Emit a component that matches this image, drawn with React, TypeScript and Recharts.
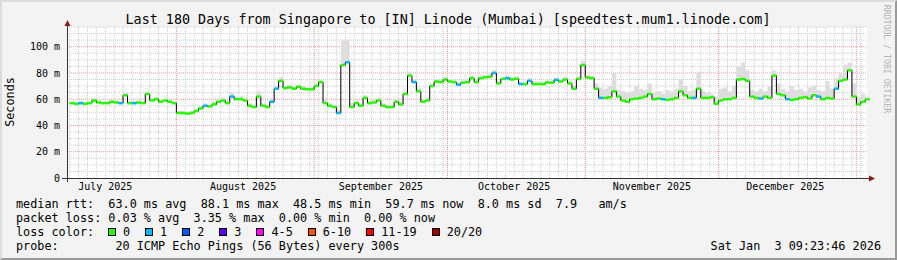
import React from "react";
import { ComposedChart, Area, Line, Scatter, ErrorBar, XAxis, YAxis, CartesianGrid } from "recharts";

// days are counted from Jul 1 2025 00:00; the graph spans 180 days ending Jan 3 2026 09:23
const FIRST_DAY = 7;
const START = 6.39;
const END = 186.39;

// daily median rtt (ms), Jul 8 .. Jan 3
const median = [
    57, 56.5, 57, 56.5, 57, 59, 57.5, 57, 57, 58,
    57.5, 57, 63, 57, 57, 57.5, 57, 64, 59, 60,
    58, 59, 58, 57, 49.5, 49.5, 49, 49.5, 51, 53,
    55, 54.5, 56, 58, 59, 57, 62, 60, 60, 59,
    55, 54, 62, 55, 54, 58, 68, 74, 68.5, 69,
    68, 69.5, 68, 67.5, 67.5, 70, 73, 57, 55, 54,
    49.5, 86, 88.1, 54, 57, 55, 61, 57, 57.5, 59,
    55, 54, 54, 58, 56, 64, 78, 73, 66, 58,
    59, 70, 73.5, 73, 75, 73.5, 73, 71, 72.5, 73,
    76, 73, 76, 76.7, 77, 80, 72, 75.4, 76, 75,
    75.5, 71.5, 71.4, 74, 71.4, 71.5, 71.4, 72.7, 72.5, 74.7,
    73.5, 75, 72, 68, 75.4, 86, 76.5, 76, 68, 61,
    61, 61.5, 66, 62, 59, 58, 60, 60.5, 61, 62,
    64, 60, 60.5, 60, 59.5, 60, 61, 66, 63, 61,
    61, 68, 61, 61, 61.5, 56.5, 59, 60, 60, 61,
    75, 75.4, 74, 62, 61, 60.5, 62, 61, 78, 64,
    63, 60, 59.5, 60, 61, 61.5, 60.5, 63, 62, 60,
    61, 60.5, 68, 74, 75, 82, 62, 56, 58, 60,
];

// top of the ping "smoke" per day (ms)
const smokeHi = [
    58, 58, 58.5, 58, 58, 60.5, 59, 58, 58, 59.5,
    59, 58.5, 65, 58.5, 58.5, 59, 58.5, 66, 61, 61.5,
    59.5, 60.5, 59.5, 58.5, 51, 51, 50.5, 51, 52.5, 55,
    57, 56, 58, 60, 61, 59, 65, 62, 62, 61,
    57, 56, 66, 57, 56, 60, 70, 77, 70, 71,
    70, 71, 70, 69, 69, 72, 75, 60, 57, 56,
    52, 105, 105, 57, 59, 57, 63, 59, 59.5, 61,
    57, 56, 56, 60, 58, 66, 81, 75, 69, 60,
    61, 72, 75.5, 75, 77, 75.5, 75, 73, 74.5, 75,
    78, 75, 78, 78.5, 79, 82, 74, 77, 78, 77,
    77.5, 73.5, 73.5, 76, 73.5, 73.5, 73.5, 74.5, 74.5, 76.5,
    75.5, 77, 74, 70, 77.5, 89, 78.5, 78, 72, 69,
    68, 70, 80, 67, 66, 65, 66, 70, 68, 67,
    72, 65, 66, 64, 67, 66, 68, 75, 70, 66,
    67, 81, 66, 65, 64, 62, 68, 69, 66, 70,
    85, 88, 82, 67, 66, 68, 66, 70, 82, 72,
    68, 66, 70, 67, 68, 66, 69, 70, 67, 66,
    74, 68, 76, 80, 86, 88, 72, 62, 64, 66,
];

// days where 1 of 20 pings was lost
const lossOneDays = [9, 18, 21, 37, 43, 52, 53, 67, 69, 84, 94, 102, 105, 108, 110, 116, 126, 140, 147, 162, 168, 175, 179];

const monthTicks = [15, 46, 77, 107, 138, 168];
const monthLabels = ["July 2025", "August 2025", "September 2025", "October 2025", "November 2025", "December 2025"];
const monthStarts = [31, 62, 92, 123, 153, 184];
const yTicks = [0, 20, 40, 60, 80, 100];

const lossColors = [
    { label: "0", color: "#26ff00" },
    { label: "1", color: "#00b8ff" },
    { label: "2", color: "#0059ff" },
    { label: "3", color: "#5e00ff" },
    { label: "4-5", color: "#ff00ff" },
    { label: "6-10", color: "#ff5500" },
    { label: "11-19", color: "#ff0000" },
    { label: "20/20", color: "#a10000" },
];

const rows = median.map((m, i) => ({ day: FIRST_DAY + i, median: m, hi: smokeHi[i] }));
const segs = rows.map((r) => ({ day: r.day + 0.5, median: r.median, half: 0.5, lost: lossOneDays.includes(r.day) }));
const greenSegs = segs.filter((s) => !s.lost);
const blueSegs = segs.filter((s) => s.lost);

const minorX: number[] = [];
for (let d = 7; d <= 186; d += 2) minorX.push(d);
const minorY: number[] = [];
for (let v = 5; v <= 115; v += 5) if (v % 20 !== 0) minorY.push(v);

const MONO = "'DejaVu Sans Mono', monospace";

const textRow = (top: number): React.CSSProperties => ({
    position: "absolute",
    left: 16,
    top,
    fontFamily: MONO,
    fontSize: 11.8,
    lineHeight: "14px",
    whiteSpace: "pre",
    color: "#000",
});

export default function App() {
    return (
        <div style={{ position: "fixed", left: 0, top: 0, width: 897, height: 260, background: "#f3f3f3", overflow: "hidden" }}>
            <ComposedChart
                width={897}
                height={260}
                data={rows}
                margin={{ top: 27, right: 30, bottom: 62, left: 7 }}
                style={{ position: "absolute", left: 0, top: 0 }}
            >
                <CartesianGrid fill="#fff" stroke="#cdcdcd" strokeDasharray="1 1" horizontalValues={minorY} verticalValues={minorX} />
                <CartesianGrid stroke="#e99a9a" strokeDasharray="1 1" horizontalValues={[20, 40, 60, 80, 100]} verticalValues={monthStarts} />
                <XAxis
                    dataKey="day"
                    type="number"
                    domain={[START, END]}
                    allowDataOverflow
                    ticks={monthTicks}
                    interval={0}
                    tickFormatter={(v) => monthLabels[monthTicks.indexOf(v)] ?? ""}
                    tick={{ fontSize: 10, fill: "#000", fontFamily: MONO }}
                    tickSize={0}
                    tickMargin={5}
                    axisLine={false}
                    height={20}
                />
                <YAxis
                    dataKey="median"
                    type="number"
                    domain={[0, 115]}
                    allowDataOverflow
                    ticks={yTicks}
                    interval={0}
                    tickFormatter={(v) => (v === 0 ? "0" : `${v} m`)}
                    tick={{ fontSize: 10, fill: "#000", fontFamily: MONO }}
                    tickSize={0}
                    tickMargin={7}
                    axisLine={false}
                    width={60}
                />
                <Area
                    dataKey={(r: { median: number; hi: number }) => [r.median, r.hi]}
                    type="stepAfter"
                    fill="#dedede"
                    fillOpacity={1}
                    stroke="none"
                    isAnimationActive={false}
                />
                <Line dataKey="median" type="stepAfter" stroke="#000" strokeWidth={1} dot={false} isAnimationActive={false} />
                <Scatter data={greenSegs} shape={() => <g />} isAnimationActive={false}>
                    <ErrorBar dataKey="half" direction="x" width={0} stroke="#26ff00" strokeWidth={2.5} isAnimationActive={false} />
                </Scatter>
                <Scatter data={blueSegs} shape={() => <g />} isAnimationActive={false}>
                    <ErrorBar dataKey="half" direction="x" width={0} stroke="#00b8ff" strokeWidth={2.5} isAnimationActive={false} />
                </Scatter>
            </ComposedChart>

            {/* axes with arrow heads, drawn the rrdtool way */}
            <svg width={897} height={260} style={{ position: "absolute", left: 0, top: 0, pointerEvents: "none" }}>
                <line x1={67.5} y1={25} x2={67.5} y2={182} stroke="#333" strokeWidth={1} />
                <line x1={62} y1={178.5} x2={870} y2={178.5} stroke="#333" strokeWidth={1} />
                <polygon points="67.5,20 64.5,26 70.5,26" fill="#8b1a1a" />
                <polygon points="875,178.5 869,175.5 869,181.5" fill="#8b1a1a" />
            </svg>

            <div
                style={{
                    position: "absolute",
                    left: 448,
                    top: 19,
                    transform: "translate(-50%, -50%)",
                    fontFamily: MONO,
                    fontSize: 13.4,
                    whiteSpace: "pre",
                    color: "#000",
                }}
            >
                Last 180 Days from Singapore to [IN] Linode (Mumbai) [speedtest.mum1.linode.com]
            </div>

            <div
                style={{
                    position: "absolute",
                    left: 10,
                    top: 102,
                    transform: "translate(-50%, -50%) rotate(-90deg)",
                    fontFamily: MONO,
                    fontSize: 11.8,
                    whiteSpace: "pre",
                    color: "#000",
                }}
            >
                Seconds
            </div>

            <div
                style={{
                    position: "absolute",
                    left: 887,
                    top: 59,
                    transform: "translate(-50%, -50%) rotate(90deg)",
                    fontFamily: MONO,
                    fontSize: 8.2,
                    whiteSpace: "pre",
                    color: "#b4b4b4",
                }}
            >
                RRDTOOL / TOBI OETIKER
            </div>

            <div style={textRow(197)}>{"median rtt:  63.0 ms avg  88.1 ms max  48.5 ms min  59.7 ms now  8.0 ms sd  7.9   am/s"}</div>
            <div style={textRow(211)}>{"packet loss: 0.03 % avg  3.35 % max  0.00 % min  0.00 % now"}</div>
            <div style={textRow(225)}>{"loss color:"}</div>
            <div style={{ position: "absolute", left: 108, top: 225, display: "flex", alignItems: "center", height: 14 }}>
                {lossColors.map((c) => (
                    <div key={c.label} style={{ display: "flex", alignItems: "center", marginRight: 15 }}>
                        <div style={{ width: 8, height: 8, boxSizing: "border-box", border: "1px solid #000", background: c.color, marginRight: 7 }} />
                        <span style={{ fontFamily: MONO, fontSize: 11.8, lineHeight: "14px", whiteSpace: "pre" }}>{c.label}</span>
                    </div>
                ))}
            </div>
            <div style={textRow(239)}>{"probe:        20 ICMP Echo Pings (56 Bytes) every 300s"}</div>
            <div style={{ ...textRow(239), left: "auto", right: 16 }}>{"Sat Jan  3 09:23:46 2026"}</div>

            <div
                style={{
                    position: "absolute",
                    inset: 0,
                    boxSizing: "border-box",
                    borderStyle: "solid",
                    borderWidth: 2,
                    borderColor: "#dcdcdc #9a9a9a #9a9a9a #dcdcdc",
                    pointerEvents: "none",
                }}
            />
        </div>
    );
}
